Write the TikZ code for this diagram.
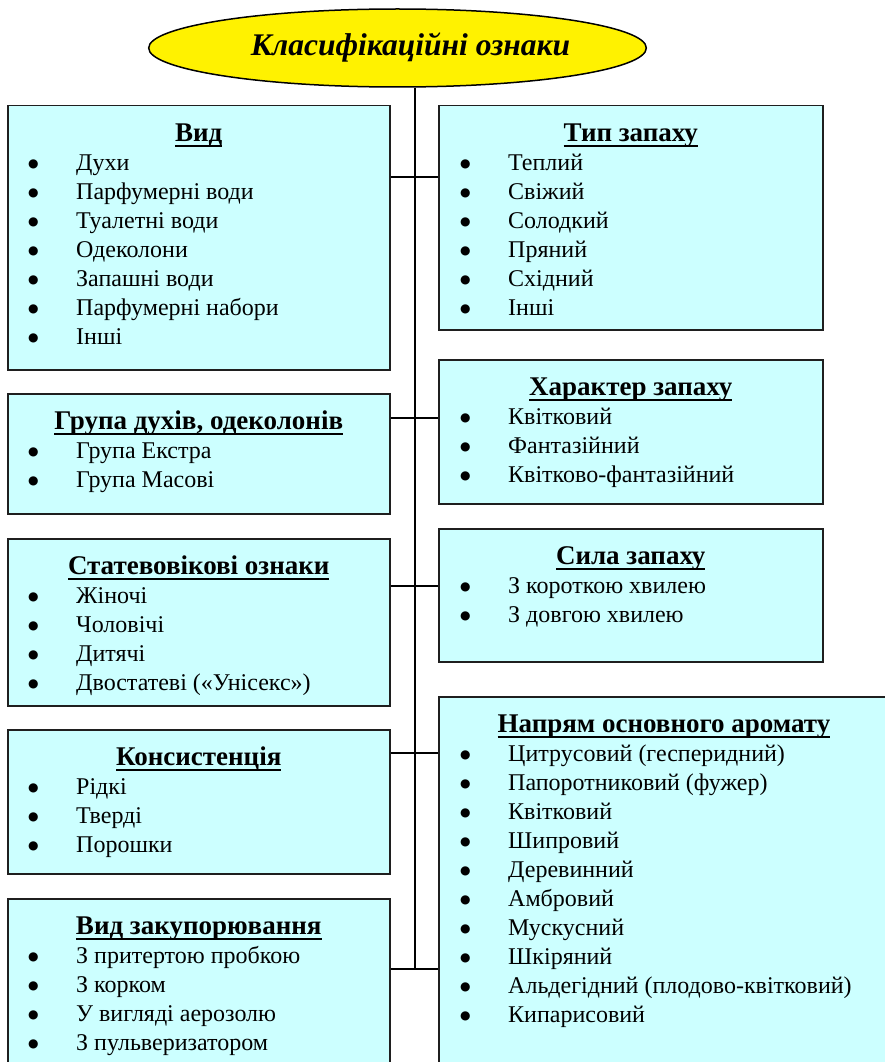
\documentclass[tikz,border=0pt]{standalone}
\usepackage{fontspec}
\setmainfont{Liberation Serif}
\newfontfamily\dotfont{DejaVu Sans}
\usetikzlibrary{positioning,shapes.geometric,calc}
\definecolor{boxcyan}{HTML}{CCFFFF}
\newcommand{\itemdot}{\strut\makebox[48pt][l]{\raisebox{3.5pt}{\dotfont\fontsize{12}{12}\selectfont ●}}}
\newcommand{\hdline}[1]{\setbox0\hbox{#1}\rlap{\rule[-6pt]{\wd0}{1.8pt}}\box0}

\begin{document}
\begin{tikzpicture}[
  x=1pt, y=-1pt,
  title/.style={ellipse, draw, line width=1.5pt, fill=yellow,
    minimum width=495pt, minimum height=78pt,
    font=\fontsize{31.5}{36}\selectfont\bfseries\itshape},
  cat/.style={rectangle, draw=black!88, line width=1.5pt, fill=boxcyan,
    anchor=north west, inner sep=0pt},
  head/.style={anchor=base, inner sep=0pt, font=\fontsize{27}{29}\selectfont\bfseries},
  items/.style={anchor=north west, align=left, inner sep=0pt,
    font=\fontsize{24}{29}\selectfont},
  link/.style={draw, line width=1.5pt},
]
  \clip (0,0) rectangle (885,1062);
  \fill[white] (0,0) rectangle (885,1062);

  \node[title] (title) at (397.5,48) {\hspace*{26pt}Класифікаційні ознаки};

  % left column
  \node[cat, minimum width=382pt, minimum height=264pt] (vid)     at (7,105) {};
  \node[cat, minimum width=382pt, minimum height=120pt] (grupa)   at (7,393) {};
  \node[cat, minimum width=382pt, minimum height=167pt] (stat)    at (7,538) {};
  \node[cat, minimum width=382pt, minimum height=144pt] (konsyst) at (7,729) {};
  \node[cat, minimum width=382pt, minimum height=182pt] (zakup)   at (7,898) {};

  % right column
  \node[cat, minimum width=384pt, minimum height=224pt] (typ)     at (438,105) {};
  \node[cat, minimum width=384pt, minimum height=144pt] (kharakt) at (438,359) {};
  \node[cat, minimum width=384pt, minimum height=133pt] (syla)    at (438,528) {};
  \node[cat, minimum width=462pt, minimum height=384pt] (napryam) at (438,696) {};

  % headings
  \node[head] (vidhead)     at ($(vid.north)+(0,36)$)     {\hdline{Вид}};
  \node[head] (grupahead)   at ($(grupa.north)+(0,36)$)   {\hdline{Група духів, одеколонів}};
  \node[head] (stathead)    at ($(stat.north)+(0,36)$)    {\hdline{Статевовікові ознаки}};
  \node[head] (konsysthead) at ($(konsyst.north)+(0,36)$) {\hdline{Консистенція}};
  \node[head] (zakuphead)   at ($(zakup.north)+(0,36)$)   {\hdline{Вид закупорювання}};
  \node[head] (typhead)     at ($(typ.north)+(0,36)$)     {\hdline{Тип запаху}};
  \node[head] (kharakthead) at ($(kharakt.north)+(0,36)$) {\hdline{Характер запаху}};
  \node[head] (sylahead)    at ($(syla.north)+(0,36)$)    {\hdline{Сила запаху}};
  \node[head] (napryamhead) at ($(napryam.north west)+(226,36)$) {\hdline{Напрям основного аромату}};

  % item lists
  \node[items] (vidlist) at ($(vid.north west)+(21,45)$)
    {\itemdot Духи\\ \itemdot Парфумерні води\\ \itemdot Туалетні води\\
     \itemdot Одеколони\\ \itemdot Запашні води\\ \itemdot Парфумерні набори\\
     \itemdot Інші};
  \node[items] (grupalist) at ($(grupa.north west)+(21,45)$)
    {\itemdot Група Екстра\\ \itemdot Група Масові};
  \node[items] (statlist) at ($(stat.north west)+(21,45)$)
    {\itemdot Жіночі\\ \itemdot Чоловічі\\ \itemdot Дитячі\\
     \itemdot Двостатеві («Унісекс»)};
  \node[items] (konsystlist) at ($(konsyst.north west)+(21,45)$)
    {\itemdot Рідкі\\ \itemdot Тверді\\ \itemdot Порошки};
  \node[items] (zakuplist) at ($(zakup.north west)+(21,45)$)
    {\itemdot З притертою пробкою\\ \itemdot З корком\\
     \itemdot У вигляді аерозолю\\ \itemdot З пульверизатором};
  \node[items] (typlist) at ($(typ.north west)+(22,45)$)
    {\itemdot Теплий\\ \itemdot Свіжий\\ \itemdot Солодкий\\
     \itemdot Пряний\\ \itemdot Східний\\ \itemdot Інші};
  \node[items] (kharaktlist) at ($(kharakt.north west)+(22,45)$)
    {\itemdot Квітковий\\ \itemdot Фантазійний\\ \itemdot Квітково-фантазійний};
  \node[items] (sylalist) at ($(syla.north west)+(22,45)$)
    {\itemdot З короткою хвилею\\ \itemdot З довгою хвилею};
  \node[items] (napryamlist) at ($(napryam.north west)+(22,45)$)
    {\itemdot Цитрусовий (гесперидний)\\ \itemdot Папоротниковий (фужер)\\
     \itemdot Квітковий\\ \itemdot Шипровий\\ \itemdot Деревинний\\
     \itemdot Амбровий\\ \itemdot Мускусний\\ \itemdot Шкіряний\\
     \itemdot Альдегідний (плодово-квітковий)\\ \itemdot Кипарисовий};

  % trunk and branches
  \coordinate (j1) at (415,177);
  \coordinate (j2) at (415,418);
  \coordinate (j3) at (415,586);
  \coordinate (j4) at (415,753);
  \coordinate (j5) at (415,969);

  \draw[link] (title.south -| j1) -- (j5);
  \draw[link] (vid.east |- j1) -- (typ.west |- j1);
  \draw[link] (grupa.east |- j2) -- (kharakt.west |- j2);
  \draw[link] (stat.east |- j3) -- (syla.west |- j3);
  \draw[link] (konsyst.east |- j4) -- (napryam.west |- j4);
  \draw[link] (zakup.east |- j5) -- (napryam.west |- j5);
\end{tikzpicture}
\end{document}
